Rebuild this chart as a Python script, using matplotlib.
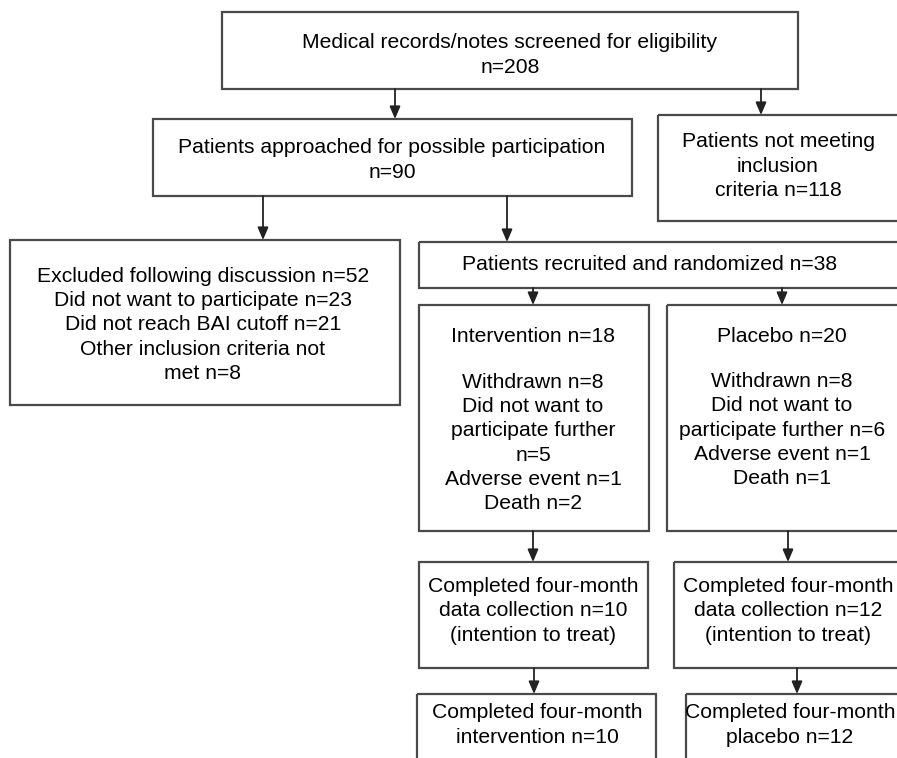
import matplotlib.pyplot as plt
from matplotlib.patches import Rectangle

# numbers in the flow diagram
screened_n = 208
approached_n = 90
not_meeting_n = 118
excluded_n = 52
excluded_reasons = ["Did not want to participate", "Did not reach BAI cutoff", "Other inclusion criteria not\nmet"]
excluded_reason_n = [23, 21, 8]
recruited_n = 38
arm_names = ["Intervention", "Placebo"]
arm_n = [18, 20]
withdrawn_n = [8, 8]
no_further_n = [5, 6]
adverse_n = [1, 1]
death_n = [2, 1]
itt_n = [10, 12]
completed_n = [10, 12]
completed_labels = ["intervention", "placebo"]

edge_col = "#4a4a4a"
fs = 15.2

fig = plt.figure(figsize=(8.97, 7.58), dpi=100)
ax = fig.add_axes([0, 0, 1, 1])
ax.set_xlim(0, 897)
ax.set_ylim(758, 0)
ax.axis("off")

def box(x0, y0, x1, y1):
    ax.add_patch(Rectangle((x0, y0), x1 - x0, y1 - y0, fill=False, ec=edge_col, lw=1.6))

def label(x, y, s):
    ax.text(x, y, s, ha="center", va="center", fontsize=fs, color="black",
            linespacing=1.34, family=['Liberation Sans', 'DejaVu Sans'])

def arrow(x, y0, y1):
    ax.annotate("", xy=(x, y1), xytext=(x, y0),
                arrowprops=dict(arrowstyle="-|>,head_length=0.75,head_width=0.32",
                                color="#222222", lw=1.3, shrinkA=0, shrinkB=0))

# top
box(222, 12, 798, 89)
label(510, 55, "Medical records/notes screened for eligibility\nn=%d" % screened_n)
arrow(395, 89, 119)
arrow(761, 89, 115)

box(153, 119, 632, 196)
label(392, 160, "Patients approached for possible participation\nn=%d" % approached_n)

box(658, 115, 910, 221)
label(778, 166, "Patients not meeting\ninclusion\ncriteria n=%d" % not_meeting_n)

arrow(263, 196, 240)
arrow(507, 196, 242)

# excluded
exc_lines = ["Excluded following discussion n=%d" % excluded_n]
for r, n in zip(excluded_reasons, excluded_reason_n):
    exc_lines.append("%s n=%d" % (r, n))
box(10, 240, 400, 405)
label(203, 325, "\n".join(exc_lines))

# randomized
box(419, 242, 910, 288)
label(650, 265, "Patients recruited and randomized n=%d" % recruited_n)

arm_x = [533, 782]
arm_box = [(419, 649), (667, 910)]
for i in range(2):
    arrow(arm_x[i], 288, 305)
    box(arm_box[i][0], 305, arm_box[i][1], 531)
    label(arm_x[i], 336, "%s n=%d" % (arm_names[i], arm_n[i]))

label(533, 443, "Withdrawn n=%d\nDid not want to\nparticipate further\nn=%d\nAdverse event n=%d\nDeath n=%d"
      % (withdrawn_n[0], no_further_n[0], adverse_n[0], death_n[0]))
label(782, 430, "Withdrawn n=%d\nDid not want to\nparticipate further n=%d\nAdverse event n=%d\nDeath n=%d"
      % (withdrawn_n[1], no_further_n[1], adverse_n[1], death_n[1]))

# intention to treat
itt_x = [533, 788]
itt_box = [(419, 648), (674, 910)]
for i in range(2):
    arrow(itt_x[i], 531, 562)
    box(itt_box[i][0], 562, itt_box[i][1], 668)
    label(itt_x[i], 611, "Completed four-month\ndata collection n=%d\n(intention to treat)" % itt_n[i])

# completed
comp_x = [537, 790]
comp_arrow_x = [534, 797]
comp_box = [(417, 656), (686, 910)]
for i in range(2):
    arrow(comp_arrow_x[i], 668, 694)
    box(comp_box[i][0], 694, comp_box[i][1], 775)
    label(comp_x[i], 725, "Completed four-month\n%s n=%d" % (completed_labels[i], completed_n[i]))

fig.savefig("out.png", dpi=100)
